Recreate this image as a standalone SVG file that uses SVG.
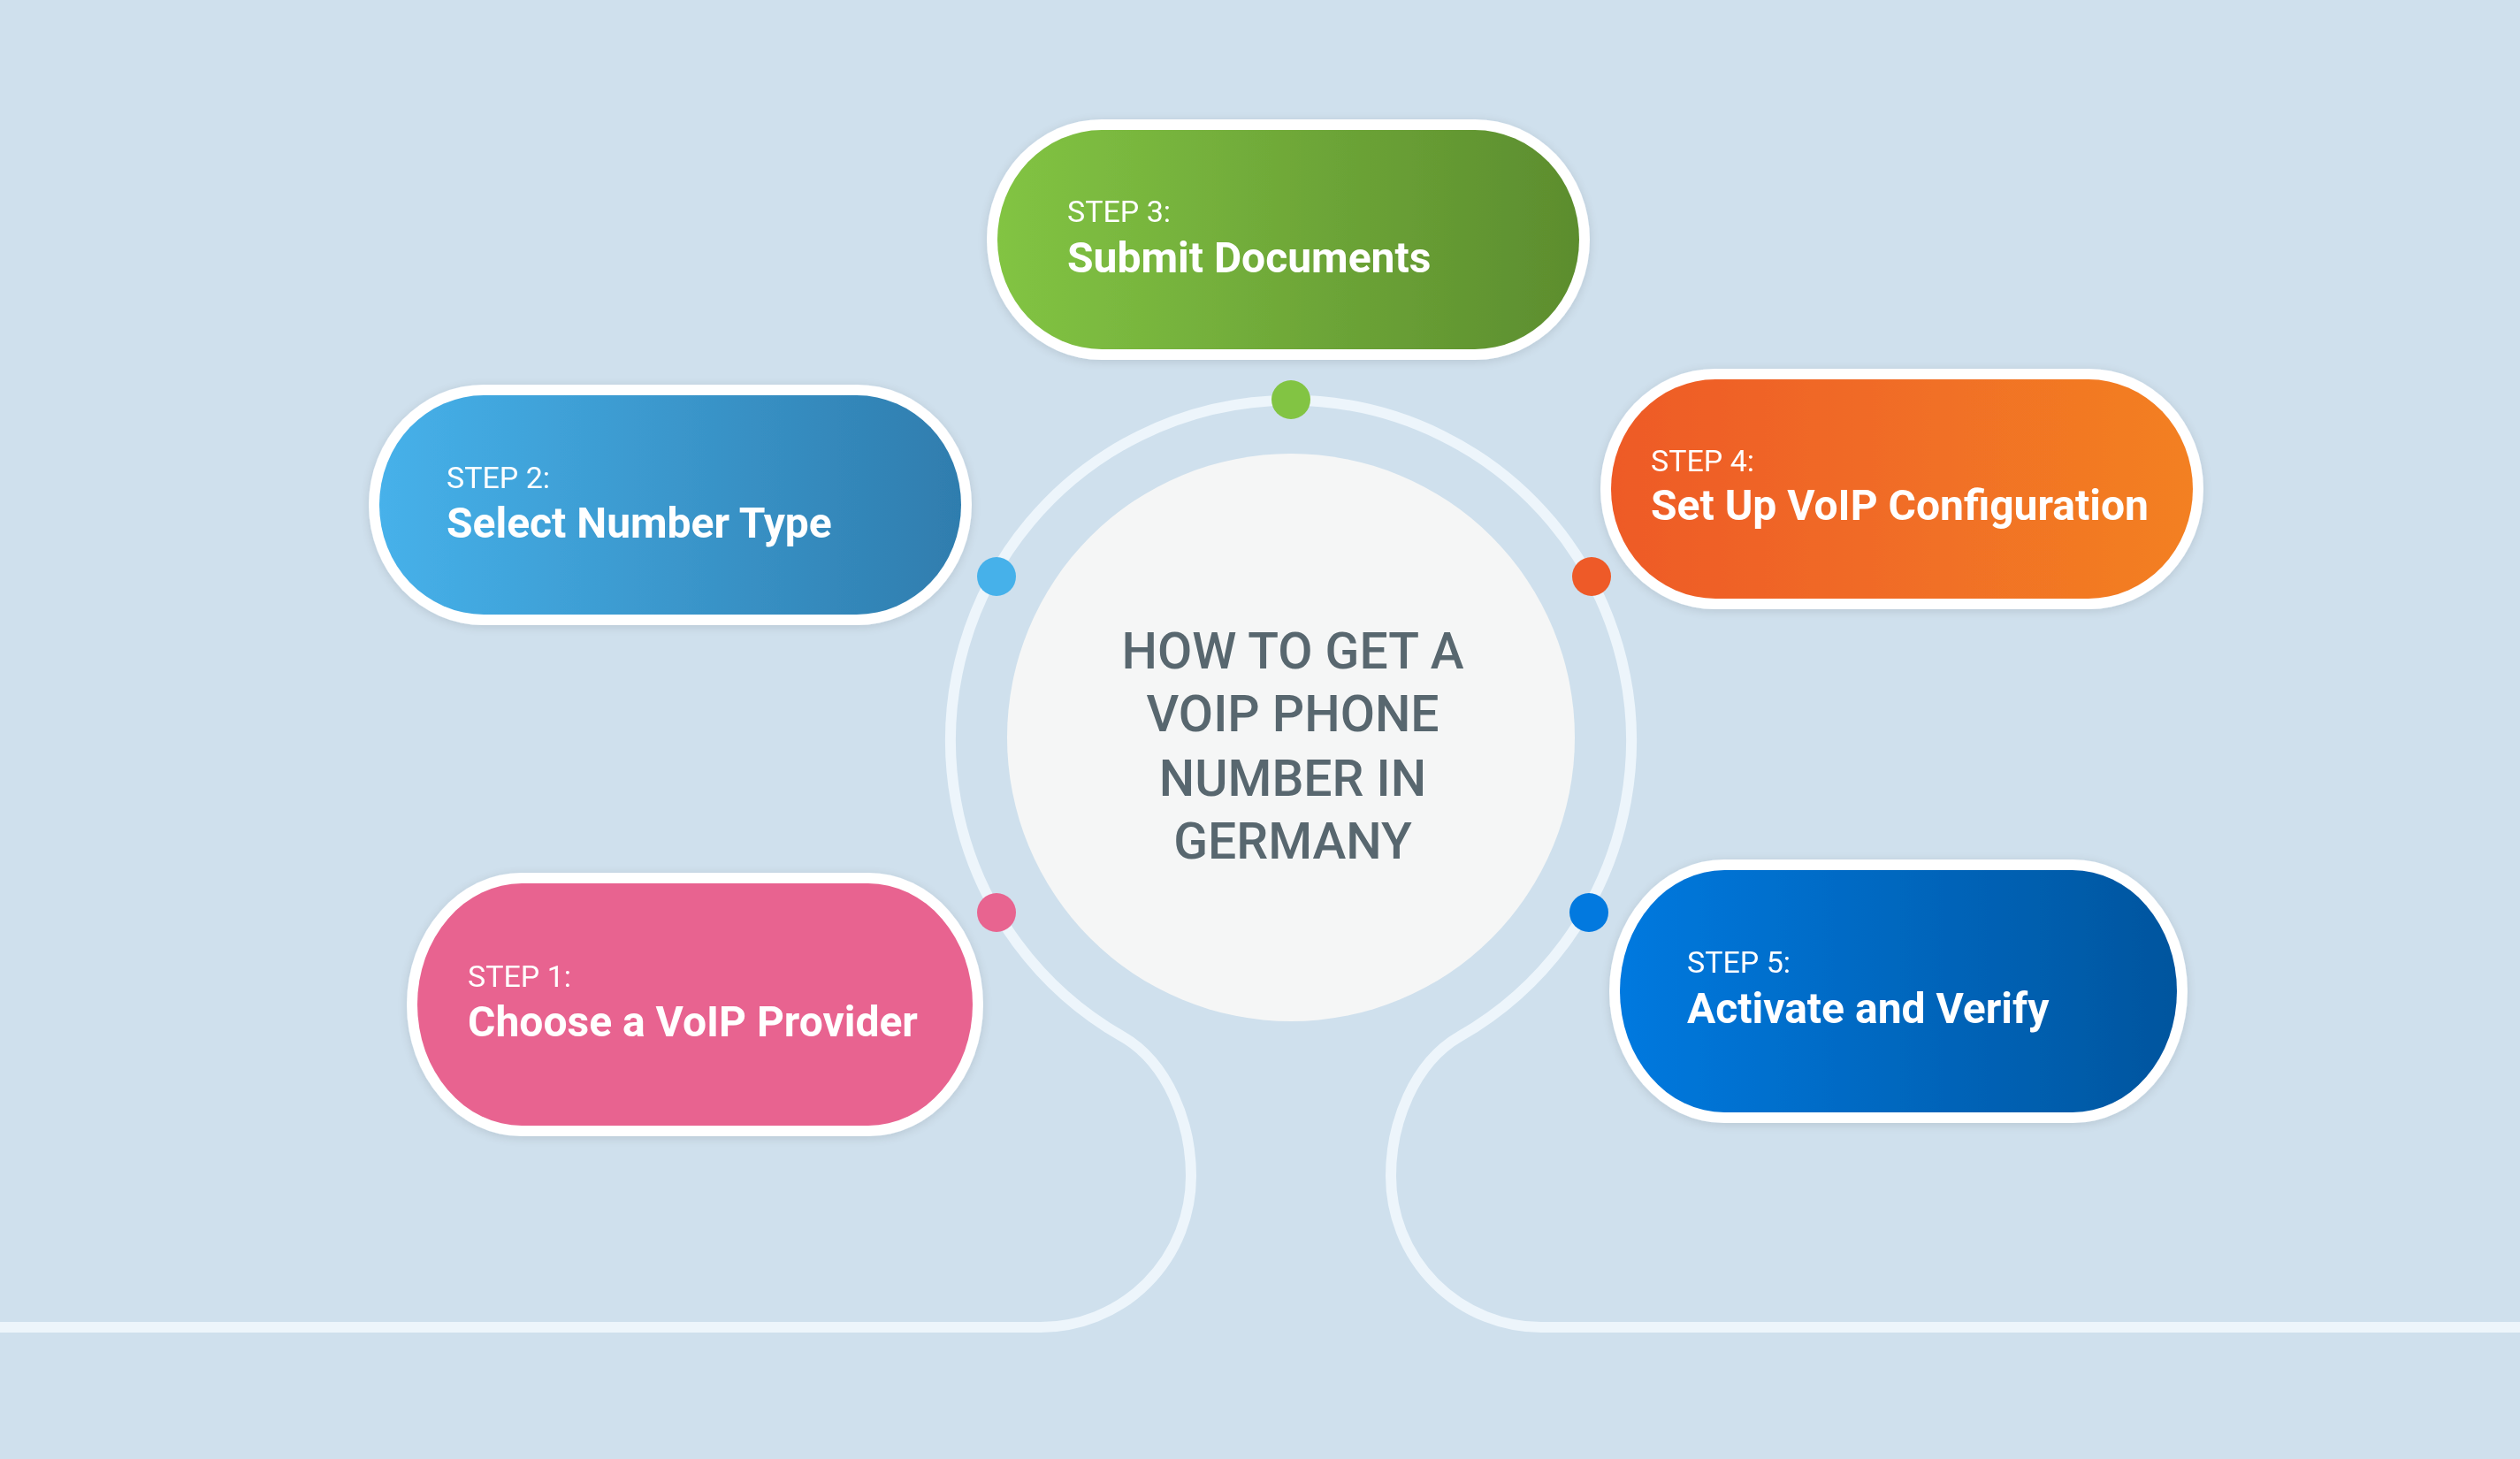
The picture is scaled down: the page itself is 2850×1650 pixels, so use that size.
<svg xmlns="http://www.w3.org/2000/svg" width="2850" height="1650" viewBox="0 0 2850 1650">
<defs>
<linearGradient id="gBlue" x1="0" y1="0" x2="1" y2="0"><stop offset="0" stop-color="#46b1ea"/><stop offset="1" stop-color="#2f7dae"/></linearGradient>
<linearGradient id="gGreen" x1="0" y1="0" x2="1" y2="0"><stop offset="0" stop-color="#82c443"/><stop offset="1" stop-color="#5c8d2e"/></linearGradient>
<linearGradient id="gOrange" x1="0" y1="0" x2="1" y2="0"><stop offset="0" stop-color="#ee5a28"/><stop offset="1" stop-color="#f38023"/></linearGradient>
<linearGradient id="gBlue2" x1="0" y1="0" x2="1" y2="0"><stop offset="0" stop-color="#0279df"/><stop offset="1" stop-color="#04559e"/></linearGradient>
<filter id="sh" x="-10%" y="-20%" width="120%" height="140%"><feGaussianBlur in="SourceAlpha" stdDeviation="6"/><feOffset dy="2"/><feComponentTransfer><feFuncA type="linear" slope="0.12"/></feComponentTransfer><feMerge><feMergeNode/><feMergeNode in="SourceGraphic"/></feMerge></filter>
</defs>
<style>
.line{fill:none;stroke:#edf5fb;stroke-width:12}
.rim{fill:#ffffff}
.step{font-family:Roboto,"Liberation Sans",sans-serif;font-size:34px;fill:#ffffff}
.title{font-family:Roboto,"Liberation Sans",sans-serif;font-size:48px;font-weight:700;fill:#ffffff}
.head{font-family:Roboto,"Liberation Sans",sans-serif;font-size:57px;font-weight:500;fill:#58676f;text-anchor:middle}
</style>
<rect width="2850" height="1650" fill="#cfe0ed"/>
<g id="connectors">
<path class="line" d="M 0 1501 H 1177 A 170 171 0 0 0 1347 1330 C 1347 1270 1321 1202 1269 1172 A 385 385 0 1 1 1651 1172 C 1599 1202 1573 1270 1573 1330 A 170 171 0 0 0 1743 1501 H 2850"/>
<circle cx="1460" cy="452" r="22" fill="#82c443"/>
<circle cx="1127" cy="652" r="22" fill="#46b1ea"/>
<circle cx="1800" cy="652" r="22" fill="#ee5a28"/>
<circle cx="1127" cy="1032" r="22" fill="#e86490"/>
<circle cx="1797" cy="1032" r="22" fill="#0279df"/>
</g>
<g id="center">
<circle cx="1460" cy="834" r="321" fill="#f5f6f6"/>
<text class="head" x="1462" y="756">HOW TO GET A</text>
<text class="head" x="1462" y="827">VOIP PHONE</text>
<text class="head" x="1462" y="900">NUMBER IN</text>
<text class="head" x="1462" y="971">GERMANY</text>
</g>
<g id="step3" filter="url(#sh)">
<rect class="rim" x="1116" y="135" width="682" height="272" rx="130" ry="136"/>
<rect x="1128" y="147" width="658" height="248" rx="118" ry="124" fill="url(#gGreen)"/>
<text class="step" x="1207" y="251">STEP 3:</text>
<text class="title" x="1207" y="308">Submit Documents</text>
</g>
<g id="step2" filter="url(#sh)">
<rect class="rim" x="417" y="435" width="682" height="272" rx="130" ry="136"/>
<rect x="429" y="447" width="658" height="248" rx="118" ry="124" fill="url(#gBlue)"/>
<text class="step" x="505" y="552">STEP 2:</text>
<text class="title" x="505" y="608">Select Number Type</text>
</g>
<g id="step4" filter="url(#sh)">
<rect class="rim" x="1810" y="417" width="682" height="272" rx="130" ry="136"/>
<rect x="1822" y="429" width="658" height="248" rx="118" ry="124" fill="url(#gOrange)"/>
<text class="step" x="1867" y="533">STEP 4:</text>
<text class="title" x="1867" y="588">Set Up VoIP Configuration</text>
</g>
<g id="step1" filter="url(#sh)">
<rect class="rim" x="460" y="987" width="652" height="298" rx="130" ry="149"/>
<rect x="472" y="999" width="628" height="274" rx="118" ry="137" fill="#e86490"/>
<text class="step" x="529" y="1116">STEP 1:</text>
<text class="title" x="529" y="1172">Choose a VoIP Provider</text>
</g>
<g id="step5" filter="url(#sh)">
<rect class="rim" x="1820" y="972" width="654" height="298" rx="130" ry="149"/>
<rect x="1832" y="984" width="630" height="274" rx="118" ry="137" fill="url(#gBlue2)"/>
<text class="step" x="1908" y="1100">STEP 5:</text>
<text class="title" x="1908" y="1157">Activate and Verify</text>
</g>
</svg>
